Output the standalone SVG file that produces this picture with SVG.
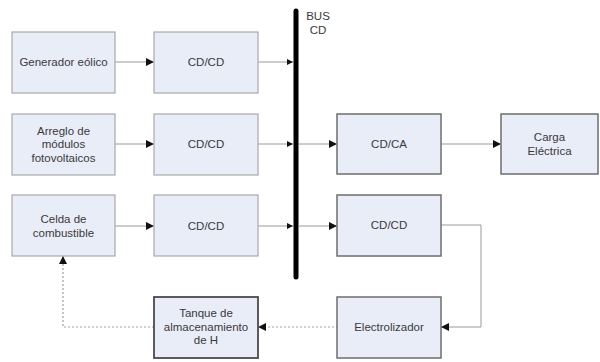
<svg xmlns="http://www.w3.org/2000/svg" width="600" height="362" viewBox="0 0 600 362">
  <defs>
    <marker id="arrow" viewBox="0 0 8 8" refX="8" refY="4" markerWidth="8" markerHeight="8" markerUnits="userSpaceOnUse" orient="auto">
      <path d="M0,0 L8,4 L0,8 Z" fill="#111"/>
    </marker>
    <marker id="arrowSmall" viewBox="0 0 6 6" refX="6" refY="3" markerWidth="6" markerHeight="6" markerUnits="userSpaceOnUse" orient="auto">
      <path d="M0,0 L6,3 L0,6 Z" fill="#111"/>
    </marker>
  </defs>
  <style>
    .box { fill: #e9edf7; stroke: #a9a9a9; stroke-width: 1.2; }
    .box.dark { stroke: #6e6e6e; stroke-width: 1.5; }
    .box.tank { stroke: #4a4a4a; stroke-width: 1.8; }
    .label { font-family: "Liberation Sans", Arial, sans-serif; font-size: 11.5px; fill: #3a3a3a; text-anchor: middle; dominant-baseline: central; }
    .wire { fill: none; stroke: #9a9a9a; stroke-width: 1; }
    .dotted { fill: none; stroke: #a0a0a0; stroke-width: 1.2; stroke-dasharray: 2 2; }
    .bus { stroke: #000; stroke-width: 5; stroke-linecap: round; }
  </style>
  <rect width="600" height="362" fill="#ffffff"/>

  <!-- DC bus bar -->
  <g id="bus">
    <line class="bus" x1="296" y1="11" x2="296" y2="277"/>
    <text class="label" x="318" y="16">BUS</text>
    <text class="label" x="318" y="30">CD</text>
  </g>

  <!-- connectors -->
  <g id="connectors">
    <line class="wire" x1="115" y1="62" x2="154" y2="62" marker-end="url(#arrow)"/>
    <line class="wire" x1="258" y1="62" x2="293" y2="62" marker-end="url(#arrowSmall)"/>
    <line class="wire" x1="115" y1="144" x2="154" y2="144" marker-end="url(#arrow)"/>
    <line class="wire" x1="258" y1="144" x2="293" y2="144" marker-end="url(#arrowSmall)"/>
    <line class="wire" x1="299" y1="144" x2="337" y2="144" marker-end="url(#arrow)"/>
    <line class="wire" x1="441" y1="144" x2="501" y2="144" marker-end="url(#arrow)"/>
    <line class="wire" x1="115" y1="226" x2="154" y2="226" marker-end="url(#arrow)"/>
    <line class="wire" x1="258" y1="226" x2="293" y2="226" marker-end="url(#arrowSmall)"/>
    <line class="wire" x1="299" y1="226" x2="337" y2="226" marker-end="url(#arrow)"/>
    <polyline class="wire" points="441,225 481,225 481,327 441,327" marker-end="url(#arrow)"/>
    <line class="dotted" x1="338" y1="327" x2="258" y2="327" marker-end="url(#arrow)"/>
    <polyline class="dotted" points="154,327 63,327 63,256" marker-end="url(#arrow)"/>
  </g>

  <g id="generador-eolico">
    <rect class="box" x="12" y="32" width="103" height="61"/>
    <text class="label" x="63.5" y="62">Generador eólico</text>
  </g>
  <g id="cdcd-1">
    <rect class="box" x="154" y="32" width="104" height="61"/>
    <text class="label" x="206" y="62">CD/CD</text>
  </g>

  <g id="arreglo-fv">
    <rect class="box" x="12" y="114" width="103" height="61"/>
    <text class="label" x="63.5" y="130.5">Arreglo de</text>
    <text class="label" x="63.5" y="144">módulos</text>
    <text class="label" x="63.5" y="157.5">fotovoltaicos</text>
  </g>
  <g id="cdcd-2">
    <rect class="box" x="154" y="114" width="104" height="61"/>
    <text class="label" x="206" y="144">CD/CD</text>
  </g>

  <g id="cdca">
    <rect class="box dark" x="337" y="114" width="104" height="60"/>
    <text class="label" x="389" y="144">CD/CA</text>
  </g>
  <g id="carga-electrica">
    <rect class="box dark" x="501" y="114" width="97" height="60"/>
    <text class="label" x="549.5" y="137">Carga</text>
    <text class="label" x="549.5" y="151">Eléctrica</text>
  </g>

  <g id="celda-combustible">
    <rect class="box" x="12" y="195" width="103" height="61"/>
    <text class="label" x="63.5" y="218.5">Celda de</text>
    <text class="label" x="63.5" y="232.5">combustible</text>
  </g>
  <g id="cdcd-3">
    <rect class="box" x="154" y="195" width="104" height="61"/>
    <text class="label" x="206" y="226">CD/CD</text>
  </g>

  <g id="cdcd-4">
    <rect class="box dark" x="337" y="195" width="104" height="61"/>
    <text class="label" x="389" y="225">CD/CD</text>
  </g>

  <g id="tanque-h">
    <rect class="box tank" x="154" y="297" width="104" height="61"/>
    <text class="label" x="206" y="313">Tanque de</text>
    <text class="label" x="206" y="327">almacenamiento</text>
    <text class="label" x="206" y="340">de H</text>
  </g>

  <g id="electrolizador">
    <rect class="box dark" x="337" y="297" width="104" height="61"/>
    <text class="label" x="389" y="327">Electrolizador</text>
  </g>
</svg>
